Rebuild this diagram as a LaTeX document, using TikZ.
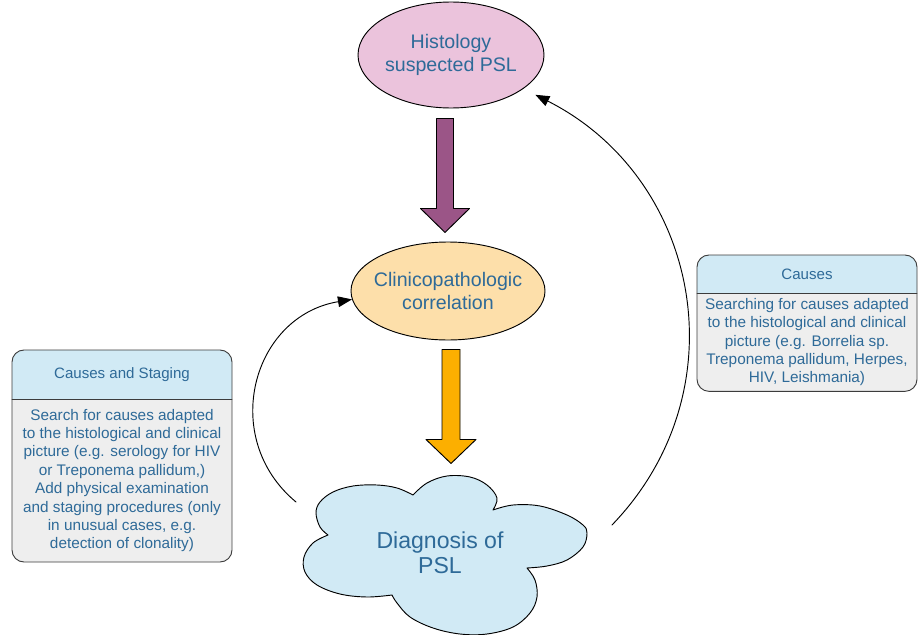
\documentclass[tikz,border=0pt]{standalone}
\usepackage{fontspec}
\setmainfont{Liberation Sans}
\usetikzlibrary{shapes.geometric,positioning,arrows.meta,backgrounds}
\definecolor{txtblue}{RGB}{46,106,152}
\definecolor{histpink}{RGB}{235,195,220}
\definecolor{corrorange}{RGB}{253,223,170}
\definecolor{cloudblue}{RGB}{209,234,245}
\definecolor{bodygrey}{RGB}{238,238,238}
\definecolor{arrowpurple}{RGB}{155,85,135}
\definecolor{arroworange}{RGB}{252,175,0}
\definecolor{boxline}{RGB}{60,60,60}
\begin{document}
\begin{tikzpicture}[x=0.75pt,y=-0.75pt,line join=round,line cap=round,line width=0.7pt,
	bubble/.style={ellipse,draw,inner xsep=-10pt,inner ysep=0pt,align=center,text=txtblue,font=\fontsize{14.7}{17}\selectfont},
	boxhead/.style={minimum width=165pt,inner sep=0pt,outer sep=0pt,text=txtblue,font=\fontsize{11.3}{13.5}\selectfont},
	boxbody/.style={minimum width=165pt,inner sep=0pt,outer sep=0pt,align=center,text=txtblue,font=\fontsize{11.5}{13.8}\selectfont},
	loop arrow/.style={-{Triangle[length=10.5pt,width=8pt]}}]
	\useasboundingbox (0,0) rectangle (921,635);
	% the three steps
	\node[bubble,fill=histpink,minimum width=139.5pt,minimum height=79.5pt] (hist) at (451,55) {Histology\\suspected PSL};
	\node[bubble,fill=corrorange,minimum width=145.5pt,minimum height=73.5pt] (corr) at (448,291) {Clinicopathologic\\correlation};
	\filldraw[fill=cloudblue]
		plot[smooth,tension=0.6] coordinates {(328,535) (320,527) (316,513) (320,502) (333,492) (353,486) (377,485) (397,488) (413,495)}
		-- plot[smooth,tension=0.6] coordinates {(413,495) (427,483) (447,476) (470,477) (487,485) (497,498) (493,510)}
		-- plot[smooth,tension=0.6] coordinates {(493,510) (513,505) (540,506) (567,515) (583,525) (587,533) (583,547) (567,560) (547,566) (527,568)}
		-- plot[smooth,tension=0.6] coordinates {(527,568) (535,580) (537,597) (530,613) (513,627) (487,634) (460,634) (433,628) (410,617) (397,603) (392,595)}
		-- plot[smooth,tension=0.6] coordinates {(392,595) (367,597) (340,594) (317,585) (305,572) (304,557) (313,543) (328,535)} -- cycle;
	\node[align=center,text=txtblue,font=\fontsize{17.3}{18.8}\selectfont] (diag) at (440,553) {Diagnosis of\\PSL};
	% block arrows
	\draw[fill=arrowpurple] ([shift={(-14.5,10)}]hist.south) -- ++(17,0) -- ++(0,90) -- ++(16,0) -- ++(-24.5,24) -- ++(-24.5,-24) -- ++(16,0) -- cycle;
	\draw[fill=arroworange] ([shift={(-6,9)}]corr.south) -- ++(18,0) -- ++(0,90) -- ++(16,0) -- ++(-25,24) -- ++(-25,-24) -- ++(16,0) -- cycle;
	% side boxes
	\node[boxhead,minimum height=36.75pt] (lhead) at (122,374.5) {Causes and Staging};
	\node[boxbody,minimum height=122.25pt,below=0pt of lhead] (lbody) {Search for causes adapted\\to the histological and clinical\\picture (e.g. serology for HIV\\or Treponema pallidum,)\\Add physical examination\\and staging procedures (only\\in unusual cases, e.g.\\detection of clonality)};
	\node[boxhead,minimum height=28.5pt] (rhead) at (807,274) {Causes};
	\node[boxbody,minimum height=69.75pt,below=0pt of rhead,yshift=-2pt] (rbody) {Searching for causes adapted\\to the histological and clinical\\picture (e.g. Borrelia sp.\\Treponema pallidum, Herpes,\\HIV, Leishmania)};
	\begin{scope}[on background layer]
		\clip[rounded corners=9pt] (lhead.north west) rectangle (lbody.south east) (rhead.north west) rectangle ([yshift=-2pt]rbody.south east);
		\fill[cloudblue] (lhead.north west) rectangle (lhead.south east) (rhead.north west) rectangle (rhead.south east);
		\fill[bodygrey] (lhead.south west) rectangle (lbody.south east) (rhead.south west) rectangle ([yshift=-2pt]rbody.south east);
	\end{scope}
	\draw[boxline,rounded corners=9pt] (lhead.north west) rectangle (lbody.south east);
	\draw[boxline] (lhead.south west) -- (lhead.south east);
	\draw[boxline,rounded corners=9pt] (rhead.north west) rectangle ([yshift=-2pt]rbody.south east);
	\draw[boxline] (rhead.south west) -- (rhead.south east);
	% feedback loops
	\coordinate (lstart) at (296,502);
	\coordinate (rstart) at (612,525);
	\draw[loop arrow] (lstart) .. controls (219,438) and (252,316) .. (corr.185);
	\draw[loop arrow,shorten >=10pt] (rstart) .. controls (742,390) and (700,178) .. (hist.-25);
\end{tikzpicture}
\end{document}
